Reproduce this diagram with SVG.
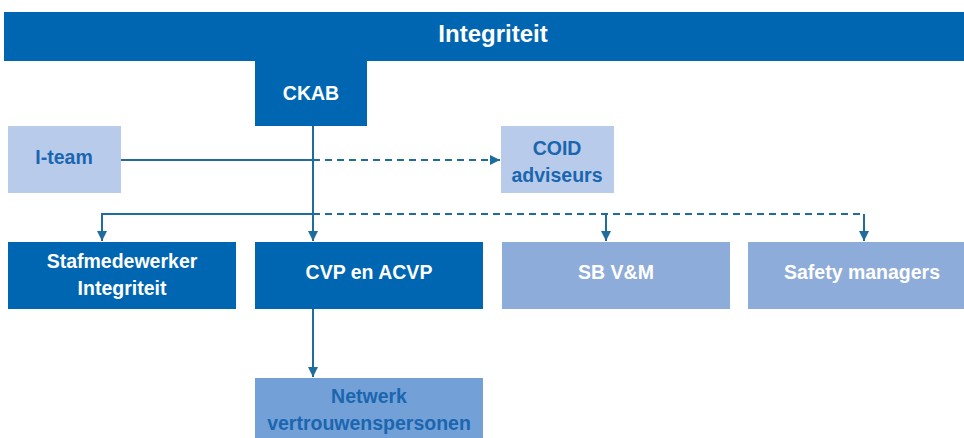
<svg xmlns="http://www.w3.org/2000/svg" width="964" height="438" viewBox="0 0 964 438">
<defs>
<style>
.dark{fill:#0066b2}
.light{fill:#b9cbea}
.mid{fill:#8eacd9}
.net{fill:#73a0d6}
.tw{font-family:"Liberation Sans",Arial,sans-serif;font-weight:bold;font-size:19.5px;fill:#ffffff;text-anchor:middle}
.tb{font-family:"Liberation Sans",Arial,sans-serif;font-weight:bold;font-size:19.5px;fill:#1a66b0;text-anchor:middle}
.ln{stroke:#1f6d9c;stroke-width:2;fill:none}
.dash{stroke-dasharray:7 5}
</style>
<marker id="ah" viewBox="0 0 10 10" refX="10" refY="5" markerWidth="5.5" markerHeight="5" orient="auto" markerUnits="strokeWidth">
<path d="M0,0 L10,5 L0,10 z" fill="#1f6d9c"/>
</marker>
</defs>
<g id="connectors">
<path class="ln" d="M121,160 H313"/>
<path class="ln dash" d="M313,160 H500" marker-end="url(#ah)"/>
<path class="ln" d="M313,126 V241" marker-end="url(#ah)"/>
<path class="ln" d="M313,214 H102 V241" marker-end="url(#ah)"/>
<path class="ln dash" d="M313,214 H864"/>
<path class="ln" d="M606,214 V241" marker-end="url(#ah)"/>
<path class="ln" d="M864,214 V241" marker-end="url(#ah)"/>
<path class="ln" d="M313,308 V377" marker-end="url(#ah)"/>
</g>
<g id="integriteit">
<rect class="dark" x="4" y="12" width="960" height="49"/>
<text class="tw" x="493" y="42" style="font-size:24px">Integriteit</text>
</g>
<g id="ckab">
<rect class="dark" x="255" y="60" width="112" height="66"/>
<text class="tw" x="311" y="100">CKAB</text>
</g>
<g id="iteam">
<rect class="light" x="8" y="126" width="113" height="67"/>
<text class="tb" x="64" y="164">I-team</text>
</g>
<g id="coid">
<rect class="light" x="501" y="126" width="113" height="67"/>
<text class="tb" x="557" y="155">COID</text>
<text class="tb" x="557" y="182">adviseurs</text>
</g>
<g id="stafmedewerker">
<rect class="dark" x="8" y="242" width="228" height="67"/>
<text class="tw" x="122" y="268">Stafmedewerker</text>
<text class="tw" x="122" y="295">Integriteit</text>
</g>
<g id="cvp">
<rect class="dark" x="255" y="242" width="228" height="67"/>
<text class="tw" x="369" y="279">CVP en ACVP</text>
</g>
<g id="sbvm">
<rect class="mid" x="502" y="242" width="228" height="67"/>
<text class="tw" x="616" y="279">SB V&amp;M</text>
</g>
<g id="safety">
<rect class="mid" x="748" y="242" width="216" height="67"/>
<text class="tw" x="862" y="279">Safety managers</text>
</g>
<g id="netwerk">
<rect class="net" x="255" y="378" width="228" height="60"/>
<text class="tb" x="369" y="403">Netwerk</text>
<text class="tb" x="369" y="430">vertrouwenspersonen</text>
</g>
</svg>
